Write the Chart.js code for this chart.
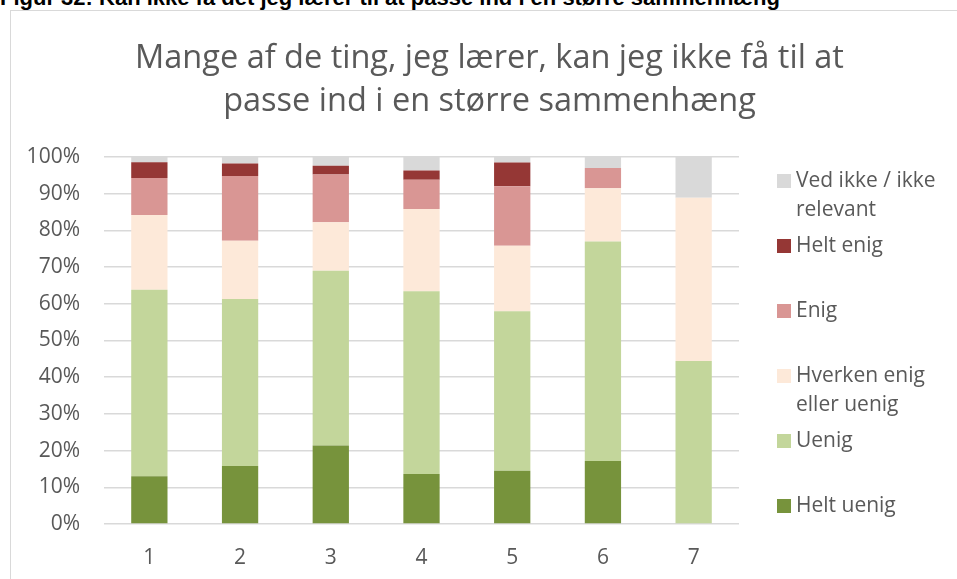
<!DOCTYPE html>
<html>
<head>
<meta charset="utf-8">
<script src="https://cdn.jsdelivr.net/npm/chart.js@4/dist/chart.umd.min.js"></script>
<style>
	html, body { margin: 0; padding: 0; background: #fff; overflow: hidden; }
	#caption { position: absolute; left: 0; top: -13px; font: bold 22px "Liberation Sans", Arial, sans-serif; line-height: 22px; color: #000; white-space: nowrap; }
	#frame { position: absolute; left: 10px; top: 10px; width: 1000px; height: 1000px; border: 1px solid #d9d9d9; }
	#wrap { position: absolute; left: 0; top: 0; width: 957px; height: 579px; }
</style>
</head>
<body>
<div id="caption">Figur 32: Kan ikke få det jeg lærer til at passe ind i en større sammenhæng</div>
<div id="frame"></div>
<div id="wrap"><canvas id="chart"></canvas></div>
<script>
const categories = ["1", "2", "3", "4", "5", "6", "7"];

// share of answers in percent, one array per answer option
const heltUenig = [13.0, 15.8, 21.4, 13.6, 14.5, 17.2, 0];
const uenig = [50.8, 45.5, 47.6, 49.8, 43.5, 59.8, 44.4];
const hverken = [20.4, 15.9, 13.2, 22.4, 17.8, 14.5, 44.5];
const enig = [10.1, 17.6, 13.0, 8.0, 16.2, 5.5, 0];
const heltEnig = [4.3, 3.4, 2.4, 2.5, 6.5, 0, 0];
const vedIkke = [1.4, 1.8, 2.4, 3.7, 1.5, 3.0, 11.1];

const seriesNames = ["Helt uenig", "Uenig", "Hverken enig eller uenig", "Enig", "Helt enig", "Ved ikke / ikke relevant"];
const seriesColors = ["#77933c", "#c3d69b", "#fde9d9", "#d99694", "#953735", "#d9d9d9"];
const titleLines = ["Mange af de ting, jeg lærer, kan jeg ikke få til at", "passe ind i en større sammenhæng"];

const textColor = "#595959";
const fontFamily = '"Open Sans", sans-serif';

function wrapWords(ctx, text, maxWidth) {
	const lines = [];
	let line = "";
	text.split(" ").forEach((word) => {
		const test = line ? line + " " + word : word;
		if (line && ctx.measureText(test).width > maxWidth) {
			lines.push(line);
			line = word;
		} else {
			line = test;
		}
	});
	lines.push(line);
	return lines;
}

// Excel style legend: one entry every 65px, wrapped text
const sideLegend = {
	id: "sideLegend",
	afterDraw(chart) {
		const ctx = chart.ctx;
		const area = chart.chartArea;
		const x = area.right + 38;
		let y = area.top + 24;
		ctx.save();
		ctx.font = "21px " + fontFamily;
		ctx.textBaseline = "middle";
		ctx.textAlign = "left";
		chart.data.datasets.slice().reverse().forEach((ds) => {
			ctx.fillStyle = ds.backgroundColor;
			ctx.fillRect(x, y - 7, 14, 14);
			ctx.fillStyle = textColor;
			wrapWords(ctx, ds.label, 150).forEach((line, i) => {
				ctx.fillText(line, x + 19, y + i * 29);
			});
			y += 65;
		});
		ctx.restore();
	},
};

const seriesValues = [heltUenig, uenig, hverken, enig, heltEnig, vedIkke];

new Chart(document.getElementById("chart"), {
	type: "bar",
	data: {
		labels: categories,
		datasets: seriesValues.map((values, i) => ({
			label: seriesNames[i],
			data: values,
			backgroundColor: seriesColors[i],
			borderWidth: 0,
			barPercentage: 0.4,
			categoryPercentage: 1,
		})),
	},
	options: {
		responsive: true,
		maintainAspectRatio: false,
		animation: false,
		layout: {
			padding: { left: 22, right: 0, top: 0, bottom: 0 },
		},
		plugins: {
			legend: { display: false },
			tooltip: { enabled: false },
			title: {
				display: true,
				text: titleLines,
				color: textColor,
				font: { family: fontFamily, size: 32.5, weight: "normal", lineHeight: 1.323 },
				padding: { top: 37, bottom: 34 },
			},
		},
		scales: {
			x: {
				stacked: true,
				grid: { display: false },
				border: { display: false },
				ticks: { color: textColor, font: { family: fontFamily, size: 21 }, padding: 13 },
				afterFit(scale) {
					scale.height = 55;
				},
			},
			y: {
				stacked: true,
				min: 0,
				max: 100,
				border: { display: false },
				grid: { color: "#d9d9d9", lineWidth: 1.5, drawTicks: false },
				ticks: {
					stepSize: 10,
					padding: 24,
					color: textColor,
					font: { family: fontFamily, size: 21 },
					callback: (v) => v + "%",
				},
				afterFit(scale) {
					scale.width = 82;
				},
			},
			// keeps room on the right for the legend
			legendSpace: {
				type: "linear",
				position: "right",
				grid: { display: false },
				border: { display: false },
				ticks: { display: false },
				afterFit(scale) {
					scale.width = 218;
				},
			},
		},
	},
	plugins: [sideLegend],
});
</script>
</body>
</html>
